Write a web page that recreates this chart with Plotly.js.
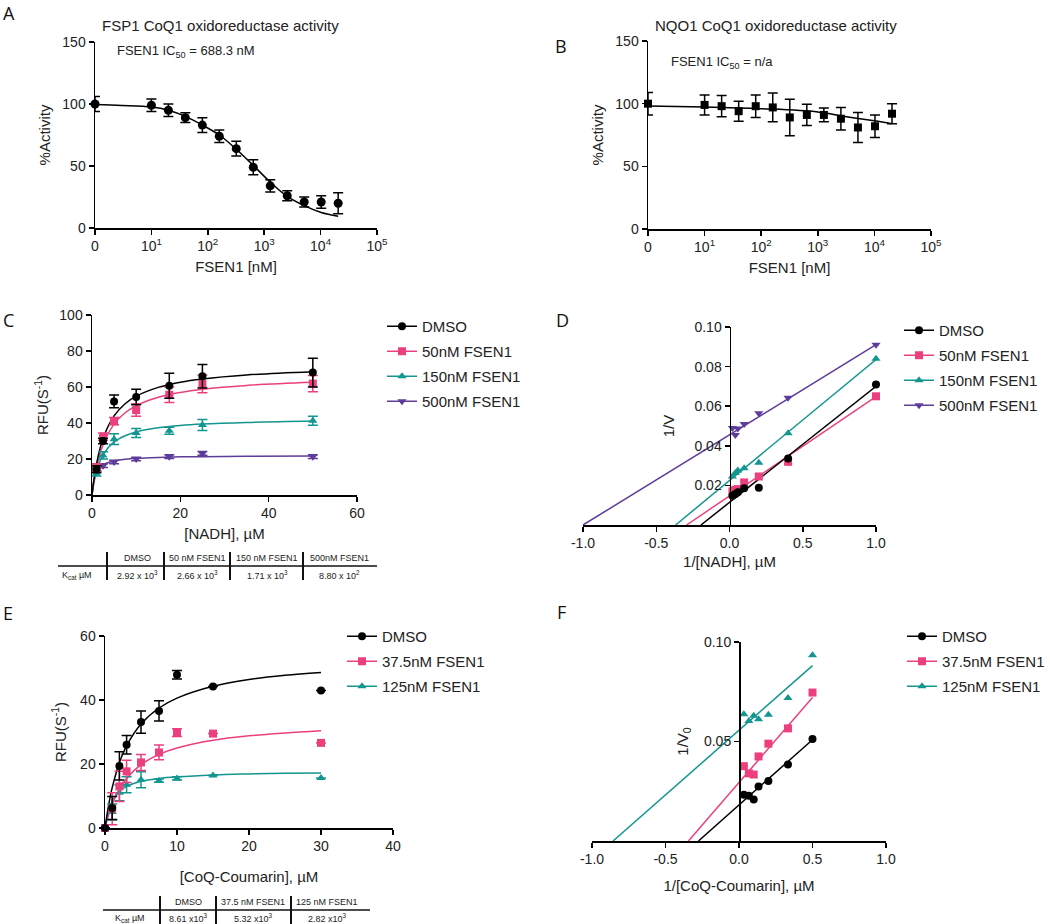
<!DOCTYPE html>
<html><head><meta charset="utf-8">
<script src="https://cdn.plot.ly/plotly-3.0.1.min.js"></script>
<style>html,body{margin:0;padding:0;background:#fff}#chart{width:1050px;height:924px}</style>
</head><body><div id="chart"></div>
<script>
// ---------- Panel A: FSP1 dose response ----------
const concA = [1, 10, 20, 40, 80, 160, 320, 640, 1280, 2560, 5120, 10240, 20480];
const actA = [100, 99, 95, 89, 83, 74, 64, 49, 34, 26, 21, 21, 20];
const errA = [6, 5, 5, 4, 6, 5, 6, 6, 5, 4, 4, 5, 8.5];
const fitXA = [1, 3, 10, 20, 40, 80, 160, 320, 640, 1280, 2560, 5120, 10240, 20480];
const fitYA = [99.5, 98.8, 97.5, 95, 90, 83, 75, 63.5, 50.5, 37, 25.5, 18, 12.5, 9.5];
// ---------- Panel B: NQO1 dose response ----------
const concB = [1, 10, 20, 40, 80, 160, 320, 640, 1280, 2560, 5120, 10240, 20480];
const actB = [100, 99, 98, 94, 98, 97, 89, 91, 91, 88, 81, 82, 92];
const errB = [9, 8, 8.5, 8, 9, 11.5, 14.5, 8.5, 5.5, 9, 12, 9, 8];
const fitXB = [1, 10, 100, 1000, 3000, 10000, 20480];
const fitYB = [98.2, 97.4, 96, 93.4, 89.8, 86.3, 84];
const logTickVals = [1, 10, 100, 1000, 10000, 100000];
const logTickText = ['0', '10<sup>1</sup>', '10<sup>2</sup>', '10<sup>3</sup>', '10<sup>4</sup>', '10<sup>5</sup>'];
// ---------- Panel C: NADH kinetics ----------
const nadh = [1, 2.5, 5, 10, 17.5, 25, 50];
const nadhDMSO = [14.3, 30, 52, 54.4, 60.7, 66, 68];
const nadhDMSOErr = [2, 1.5, 3.5, 4.3, 7, 6.5, 8];
const nadh50 = [15.4, 32.4, 41, 47.2, 55.7, 61.7, 61.9];
const nadh50Err = [2, 2, 2, 3.5, 4.3, 4.9, 4.5];
const nadh150 = [12, 22, 31, 34.4, 35.7, 38.9, 41.3];
const nadh150Err = [1.5, 2, 3, 2.5, 2, 3, 2.5];
const nadh500 = [14, 16.3, 18.3, 20, 21.3, 23.1, 21.3];
const nadh500Err = [1, 1, 1, 1, 1, 1, 1];
const fitXC = [0, 0.25, 0.5, 1, 2.5, 5, 7.5, 10, 15, 20, 25, 35, 50];
const fitC_DMSO = [0, 5.1, 9.6, 17, 31.5, 44, 50.7, 54.9, 59.8, 62.7, 64.5, 66.7, 68.5];
const fitC_50 = [0, 4.5, 8.4, 14.9, 27.9, 39.4, 45.7, 49.6, 54.3, 57, 58.8, 60.9, 62.6];
const fitC_150 = [0, 4.2, 7.7, 13, 22.4, 29.5, 32.9, 35, 37.3, 38.6, 39.4, 40.3, 41.1];
const fitC_500 = [0, 5.5, 8.5, 12.2, 16.7, 19, 19.9, 20.4, 20.9, 21.2, 21.3, 21.5, 21.7];
const seriesC = ['DMSO', '50nM FSEN1', '150nM FSEN1', '500nM FSEN1'];
// Table C
const tableCHead = ['DMSO', '50 nM FSEN1', '150 nM FSEN1', '500nM FSEN1'];
const tableCVals = ['2.92 x 10<sup>3</sup>', '2.66 x 10<sup>3</sup>', '1.71 x 10<sup>3</sup>', '8.80 x 10<sup>2</sup>'];
// ---------- Panel D: Lineweaver-Burk NADH ----------
const invNadh = [1, 0.4, 0.2, 0.1, 0.057, 0.04, 0.02];
const invDMSO = [0.071, 0.0336, 0.0188, 0.0185, 0.0166, 0.0156, 0.0148];
const inv50 = [0.065, 0.0319, 0.0245, 0.0215, 0.0181, 0.0178, 0.017];
const inv150 = [0.084, 0.0463, 0.0315, 0.0287, 0.0275, 0.0262, 0.0245];
const inv500 = [0.091, 0.0643, 0.0564, 0.051, 0.0488, 0.0455, 0.049];
const lineD_DMSO_x = [-0.195, 1], lineD_DMSO_y = [0, 0.070];
const lineD_50_x = [-0.293, 1], lineD_50_y = [0, 0.0648];
const lineD_150_x = [-0.368, 1], lineD_150_y = [0, 0.0836];
const lineD_500_x = [-1, 1], lineD_500_y = [0, 0.0911];
// ---------- Panel E: CoQ-Coumarin kinetics ----------
const coq = [0, 1, 2, 3, 5, 7.5, 10, 15, 30];
const coqDMSO = [0, 6.25, 19.4, 26, 33.1, 36.6, 47.9, 44.2, 43];
const coqDMSOErr = [0, 3.6, 4.4, 2.9, 3.5, 3.2, 1.3, 0, 0];
const coq37 = [0, 6, 13, 17.7, 20.5, 23.6, 29.8, 29.5, 26.6];
const coq37Err = [0, 5, 4.7, 3.5, 2.5, 2.3, 1.2, 0, 0];
const coq125 = [0, 5, 11, 13.5, 15.1, 14.8, 15.5, 16.4, 15.6];
const coq125Err = [0, 2.5, 2.5, 2.5, 2.5, 0.5, 0.5, 0, 0];
const fitXE = [0, 0.5, 1, 2, 3, 5, 7.5, 10, 15, 20, 25, 30];
const fitE_DMSO = [0, 7.1, 12.6, 20.4, 25.7, 32.5, 37.5, 40.6, 44.3, 46.4, 47.7, 48.6];
const fitE_37 = [0, 4.1, 7.4, 12.1, 15.5, 19.8, 23, 25, 27.4, 28.8, 29.7, 30.4];
const fitE_125 = [0, 5.6, 8.5, 11.5, 13, 14.6, 15.5, 16, 16.6, 16.9, 17.1, 17.2];
const seriesE = ['DMSO', '37.5nM FSEN1', '125nM FSEN1'];
const tableEHead = ['DMSO', '37.5 nM FSEN1', '125 nM FSEN1'];
const tableEVals = ['8.61 x10<sup>3</sup>', '5.32 x10<sup>3</sup>', '2.82 x10<sup>3</sup>'];
// ---------- Panel F: Lineweaver-Burk CoQ ----------
const invCoq = [0.5, 0.333, 0.2, 0.133, 0.1, 0.067, 0.033];
const fDMSO = [0.0513, 0.0385, 0.0301, 0.0274, 0.0208, 0.0227, 0.0232];
const f37 = [0.0746, 0.0566, 0.0489, 0.0425, 0.0334, 0.034, 0.0376];
const f125 = [0.0933, 0.0718, 0.0634, 0.0612, 0.0629, 0.0603, 0.0637];
const lineF_DMSO_x = [-0.276, 0.5], lineF_DMSO_y = [0, 0.0509];
const lineF_37_x = [-0.344, 0.5], lineF_37_y = [0, 0.0721];
const lineF_125_x = [-0.857, 0.5], lineF_125_y = [0, 0.0881];

// ---------- styling ----------
const BLACK = '#000000', PINK = '#EC3F7E', TEAL = '#13968F', PURPLE = '#5E3C99';
const FONT = 'Arial';
const W = 1050, H = 924;
const dx = (a, b) => [a / W, b / W];
const dy = (top, bottom) => [1 - bottom / H, 1 - top / H];

function pts(x, y, err, color, symbol, size, xa, ya) {
  const t = {x: x, y: y, type: 'scatter', mode: 'markers', xaxis: xa, yaxis: ya, showlegend: false,
    cliponaxis: false, marker: {color: color, symbol: symbol, size: size}, hoverinfo: 'x+y'};
  if (err) t.error_y = {type: 'data', array: err, visible: true, color: color, thickness: 1.5, width: 5};
  return t;
}
function curve(x, y, color, xa, ya, spline) {
  return {x: x, y: y, type: 'scatter', mode: 'lines', xaxis: xa, yaxis: ya, showlegend: false,
    line: {color: color, width: 1.5, shape: spline ? 'spline' : 'linear'}, hoverinfo: 'skip'};
}
function leg(name, color, symbol, xa, ya, legend) {
  return {x: [null], y: [null], type: 'scatter', mode: 'lines+markers', name: name, xaxis: xa, yaxis: ya,
    legend: legend, legendgroup: legend + name, showlegend: true,
    line: {color: color, width: 1.5}, marker: {color: color, symbol: symbol, size: 8}};
}

const data = [
  // A
  curve(fitXA, fitYA, BLACK, 'x', 'y', true),
  pts(concA, actA, errA, BLACK, 'circle', 9, 'x', 'y'),
  // B
  curve(fitXB, fitYB, BLACK, 'x2', 'y2', true),
  pts(concB, actB, errB, BLACK, 'square', 8, 'x2', 'y2'),
  // C
  curve(fitXC, fitC_500, PURPLE, 'x3', 'y3', true),
  curve(fitXC, fitC_150, TEAL, 'x3', 'y3', true),
  curve(fitXC, fitC_50, PINK, 'x3', 'y3', true),
  curve(fitXC, fitC_DMSO, BLACK, 'x3', 'y3', true),
  pts(nadh, nadh500, nadh500Err, PURPLE, 'triangle-down', 8, 'x3', 'y3'),
  pts(nadh, nadh150, nadh150Err, TEAL, 'triangle-up', 8, 'x3', 'y3'),
  pts(nadh, nadh50, nadh50Err, PINK, 'square', 8, 'x3', 'y3'),
  pts(nadh, nadhDMSO, nadhDMSOErr, BLACK, 'circle', 8, 'x3', 'y3'),
  leg(seriesC[0], BLACK, 'circle', 'x3', 'y3', 'legend'),
  leg(seriesC[1], PINK, 'square', 'x3', 'y3', 'legend'),
  leg(seriesC[2], TEAL, 'triangle-up', 'x3', 'y3', 'legend'),
  leg(seriesC[3], PURPLE, 'triangle-down', 'x3', 'y3', 'legend'),
  // D
  curve(lineD_500_x, lineD_500_y, PURPLE, 'x4', 'y4'),
  curve(lineD_150_x, lineD_150_y, TEAL, 'x4', 'y4'),
  curve(lineD_50_x, lineD_50_y, PINK, 'x4', 'y4'),
  curve(lineD_DMSO_x, lineD_DMSO_y, BLACK, 'x4', 'y4'),
  pts(invNadh, inv500, null, PURPLE, 'triangle-down', 8, 'x4', 'y4'),
  pts(invNadh, inv150, null, TEAL, 'triangle-up', 8, 'x4', 'y4'),
  pts(invNadh, inv50, null, PINK, 'square', 8, 'x4', 'y4'),
  pts(invNadh, invDMSO, null, BLACK, 'circle', 8, 'x4', 'y4'),
  leg(seriesC[0], BLACK, 'circle', 'x4', 'y4', 'legend2'),
  leg(seriesC[1], PINK, 'square', 'x4', 'y4', 'legend2'),
  leg(seriesC[2], TEAL, 'triangle-up', 'x4', 'y4', 'legend2'),
  leg(seriesC[3], PURPLE, 'triangle-down', 'x4', 'y4', 'legend2'),
  // E
  curve(fitXE, fitE_125, TEAL, 'x5', 'y5', true),
  curve(fitXE, fitE_37, PINK, 'x5', 'y5', true),
  curve(fitXE, fitE_DMSO, BLACK, 'x5', 'y5', true),
  pts(coq, coq125, coq125Err, TEAL, 'triangle-up', 8, 'x5', 'y5'),
  pts(coq, coq37, coq37Err, PINK, 'square', 8, 'x5', 'y5'),
  pts(coq, coqDMSO, coqDMSOErr, BLACK, 'circle', 8, 'x5', 'y5'),
  leg(seriesE[0], BLACK, 'circle', 'x5', 'y5', 'legend3'),
  leg(seriesE[1], PINK, 'square', 'x5', 'y5', 'legend3'),
  leg(seriesE[2], TEAL, 'triangle-up', 'x5', 'y5', 'legend3'),
  // F
  curve(lineF_125_x, lineF_125_y, TEAL, 'x6', 'y6'),
  curve(lineF_37_x, lineF_37_y, PINK, 'x6', 'y6'),
  curve(lineF_DMSO_x, lineF_DMSO_y, BLACK, 'x6', 'y6'),
  pts(invCoq, f125, null, TEAL, 'triangle-up', 8, 'x6', 'y6'),
  pts(invCoq, f37, null, PINK, 'square', 8, 'x6', 'y6'),
  pts(invCoq, fDMSO, null, BLACK, 'circle', 8, 'x6', 'y6'),
  leg(seriesE[0], BLACK, 'circle', 'x6', 'y6', 'legend4'),
  leg(seriesE[1], PINK, 'square', 'x6', 'y6', 'legend4'),
  leg(seriesE[2], TEAL, 'triangle-up', 'x6', 'y6', 'legend4')
];

function ax(extra) {
  return Object.assign({
    showline: true, linecolor: BLACK, linewidth: 1.5, mirror: false,
    ticks: 'outside', ticklen: 5, tickwidth: 1.5, tickcolor: BLACK,
    showgrid: false, zeroline: false, fixedrange: true,
    tickfont: {family: FONT, size: 14, color: '#222'}
  }, extra);
}
function ttl(text, standoff) {
  return {text: text, standoff: standoff, font: {family: FONT, size: 15, color: '#222'}};
}
const legendBase = {xanchor: 'left', yanchor: 'top', bgcolor: 'rgba(0,0,0,0)', borderwidth: 0,
  font: {family: FONT, size: 15, color: '#222'}, traceorder: 'grouped', tracegroupgap: 2.5};

const layout = {
  width: W, height: H, margin: {l: 0, r: 0, t: 0, b: 0},
  paper_bgcolor: '#fff', plot_bgcolor: '#fff', showlegend: true,
  font: {family: FONT, size: 14, color: '#222'},
  xaxis: ax({domain: dx(95, 377), anchor: 'y', type: 'log', range: [0, 5], tickvals: logTickVals, ticktext: logTickText, title: ttl('FSEN1 [nM]', 8)}),
  yaxis: ax({domain: dy(42, 228), anchor: 'x', range: [0, 150], tickvals: [0, 50, 100, 150], title: ttl('%Activity', 8)}),
  xaxis2: ax({domain: dx(648, 931), anchor: 'y2', type: 'log', range: [0, 5], tickvals: logTickVals, ticktext: logTickText, title: ttl('FSEN1 [nM]', 8)}),
  yaxis2: ax({domain: dy(41, 229), anchor: 'x2', range: [0, 150], tickvals: [0, 50, 100, 150], title: ttl('%Activity', 8)}),
  xaxis3: ax({domain: dx(92, 357), anchor: 'y3', range: [0, 60], tickvals: [0, 20, 40, 60], title: ttl('[NADH], µM', 8)}),
  yaxis3: ax({domain: dy(315, 495), anchor: 'x3', range: [0, 100], tickvals: [0, 20, 40, 60, 80, 100], title: ttl('RFU(S<sup>-1</sup>)', 7)}),
  xaxis4: ax({domain: dx(583, 876), anchor: 'y4', range: [-1, 1], tickvals: [-1, -0.5, 0, 0.5, 1], ticktext: ['-1.0', '-0.5', '0.0', '0.5', '1.0'], title: ttl('1/[NADH], µM', 6)}),
  yaxis4: ax({domain: dy(327, 525), anchor: 'free', position: 729.5 / W, range: [0, 0.1], tickvals: [0.02, 0.04, 0.06, 0.08, 0.1], ticktext: ['0.02', '0.04', '0.06', '0.08', '0.10'], title: ttl('1/V', 14)}),
  xaxis5: ax({domain: dx(105, 393), anchor: 'y5', range: [0, 40], tickvals: [0, 10, 20, 30, 40], title: ttl('[CoQ-Coumarin], µM', 18)}),
  yaxis5: ax({domain: dy(636, 828), anchor: 'x5', range: [0, 60], tickvals: [0, 20, 40, 60], title: ttl('RFU(S<sup>-1</sup>)', 10)}),
  xaxis6: ax({domain: dx(592, 886), anchor: 'y6', range: [-1, 1], tickvals: [-1, -0.5, 0, 0.5, 1], ticktext: ['-1.0', '-0.5', '0.0', '0.5', '1.0'], title: ttl('1/[CoQ-Coumarin], µM', 14)}),
  yaxis6: ax({domain: dy(642, 841), anchor: 'free', position: 739 / W, range: [0, 0.1], tickvals: [0.05, 0.1], ticktext: ['0.05', '0.10'], title: ttl('1/V<sub>0</sub>', 10)}),
  legend: Object.assign({}, legendBase, {x: 382 / W, y: 1 - 310 / H}),
  legend2: Object.assign({}, legendBase, {x: 899 / W, y: 1 - 314 / H}),
  legend3: Object.assign({}, legendBase, {x: 342 / W, y: 1 - 620 / H}),
  legend4: Object.assign({}, legendBase, {x: 902 / W, y: 1 - 620 / H}),
  annotations: [],
  shapes: []
};

const A = layout.annotations, S = layout.shapes;
function txt(text, x, y, size, opts) {
  A.push(Object.assign({text: text, x: x / W, y: 1 - y / H, xref: 'paper', yref: 'paper', showarrow: false,
    xanchor: 'center', yanchor: 'middle', font: {family: FONT, size: size, color: '#222'}}, opts || {}));
}
function hline(x0, x1, y, w) { S.push({type: 'line', xref: 'paper', yref: 'paper', x0: x0 / W, x1: x1 / W, y0: 1 - y / H, y1: 1 - y / H, line: {color: '#111', width: w}}); }
function vline(x, y0, y1, w) { S.push({type: 'line', xref: 'paper', yref: 'paper', x0: x / W, x1: x / W, y0: 1 - y0 / H, y1: 1 - y1 / H, line: {color: '#111', width: w}}); }

// panel letters
const LFONT = 'Open Sans';
[['A', 9, 13], ['B', 561, 46], ['C', 8, 320], ['D', 562, 320], ['E', 8, 613], ['F', 561, 612]].forEach(p =>
  txt(p[0], p[1], p[2], 18, {font: {family: LFONT, size: 18, color: '#111'}}));

// subplot titles and IC50 notes
txt('FSP1 CoQ1 oxidoreductase activity', 220, 26, 15);
txt('NQO1 CoQ1 oxidoreductase activity', 776, 26, 15);
txt('FSEN1 IC<sub>50</sub> = 688.3 nM', 115, 52, 13, {xanchor: 'left'});
txt('FSEN1 IC<sub>50</sub> = n/a', 669, 62, 13, {xanchor: 'left'});

// table C
hline(58, 377, 566, 1.5);
[107, 164, 230, 303].forEach(x => vline(x, 552, 580, 2));
const colC = [137, 197, 267, 339];
tableCHead.forEach((h, i) => txt(h, colC[i], 558, 9));
tableCVals.forEach((v, i) => txt(v, colC[i], 575, 9));
txt('K<sub>cat</sub> µM', 77, 575, 9);

// table E
hline(103, 370, 910, 1.5);
[160, 216, 291].forEach(x => vline(x, 896, 924, 2));
const colE = [188, 253, 327];
tableEHead.forEach((h, i) => txt(h, colE[i], 902, 9));
tableEVals.forEach((v, i) => txt(v, colE[i], 918, 9));
txt('K<sub>cat</sub> µM', 130, 918, 9);

Plotly.newPlot('chart', data, layout, {displayModeBar: false, staticPlot: true});
</script>
</body></html>
